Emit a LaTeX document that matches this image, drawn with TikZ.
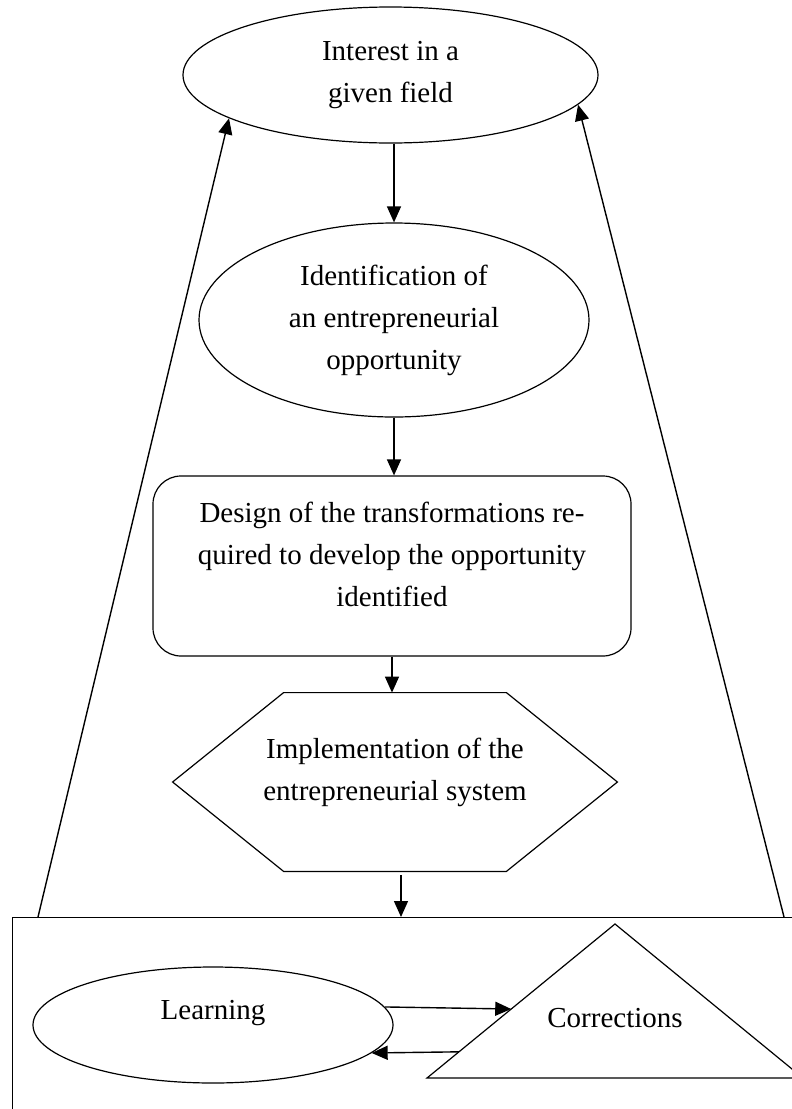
\documentclass[tikz,border=0pt]{standalone}
\usepackage{fontspec}
\setmainfont{Liberation Serif}
\usetikzlibrary{arrows.meta,calc,positioning,shapes.geometric}

\begin{document}
\begin{tikzpicture}[x=0.5pt,y=-0.5pt,
  font=\fontsize{14.5pt}{21pt}\selectfont,
  flow/.style={-{Triangle[length=8pt,width=7pt]},line width=0.7pt},
  oval/.style={draw,ellipse,inner sep=0pt,line width=0.6pt,align=center}]
  \path[use as bounding box](0,0)rectangle(792,1109);
  \clip(0,0)rectangle(792,1109);
  \node[oval,minimum width=207.5pt,minimum height=68pt](interest)at(390.5,75){Interest in a\\given field};
  \node[oval,minimum width=195pt,minimum height=97pt](ident)at(394,320){Identification of\\an entrepreneurial\\opportunity};
  \node[draw,rounded corners=14pt,line width=0.6pt,align=center,
    minimum width=239pt,minimum height=90pt,text depth=12pt](design)at(392,566){Design of the transformations re-\\quired to develop the opportunity\\identified};
  \node[align=center,minimum width=222pt,minimum height=89pt,text depth=13pt](impl)at(395,782){Implementation of the\\entrepreneurial system};
  \draw[line width=0.6pt]($(impl.north west)+(111,0)$)--($(impl.north east)+(-111,0)$)--(impl.east)
    --($(impl.south east)+(-111,0)$)--($(impl.south west)+(111,0)$)--(impl.west)--cycle;
  \node[draw,line width=0.7pt,anchor=north west,minimum width=410pt,minimum height=130pt](sys)at(12,917){};
  \node[oval,minimum width=180pt,minimum height=58pt,text depth=15pt](learn)at(213,1025){Learning};
  \coordinate(tritop)at(615,924);
  \coordinate(trileft)at(427,1078);
  \coordinate(triright)at(803,1078);
  \draw[line width=0.6pt](tritop)--(trileft)--(triright)--cycle;
  \node(corr)at(615,1018){Corrections};
  \coordinate(c1)at($(tritop)!0.552!(trileft)$);
  \coordinate(c2)at($(tritop)!0.83!(trileft)$);
  \coordinate(fl)at(38,917);
  \coordinate(fr)at(784,917);

  \draw[flow](ident.north |- interest.south)--(ident.north);
  \draw[flow](ident.south)--(ident.south |- design.north);
  \draw[flow](design.south)--(design.south |- impl.north);
  \draw[flow]([xshift=3pt,yshift=-2pt]impl.south)--([xshift=3pt]impl.south |- sys.north);
  \draw[flow](learn.6)--(c1);
  \draw[flow](c2)--(learn.350);
  \draw[flow](fl)--(interest.195);
  \draw[flow](fr)--(interest.351);
\end{tikzpicture}
\end{document}
